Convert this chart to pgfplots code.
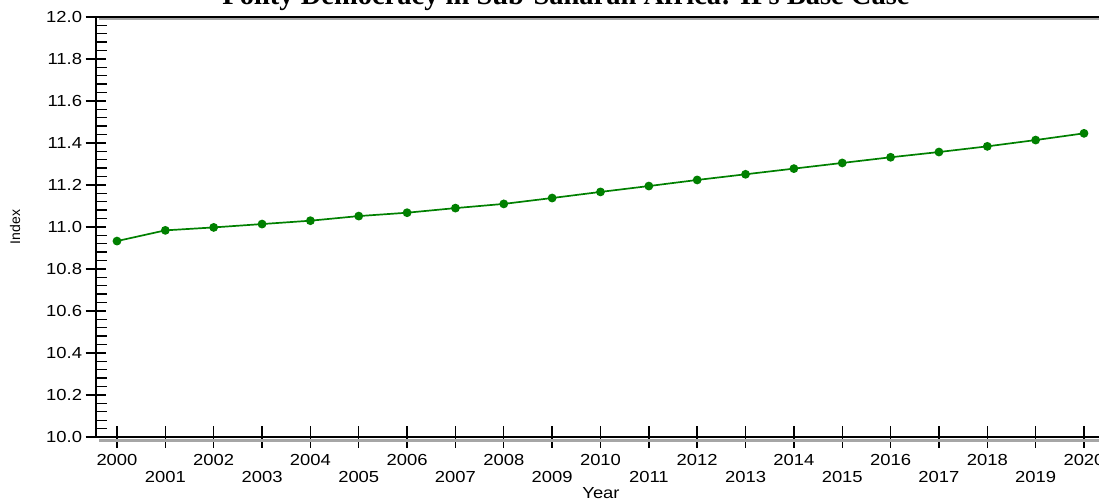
\documentclass[border=0pt]{standalone}
\usepackage{pgfplots}
\pgfplotsset{compat=1.18}
\usepackage{fontspec}
\setmainfont{Liberation Sans}
\newfontfamily\tickfont{Liberation Sans}[FakeStretch=1.15]
\newfontfamily\titlefont{Liberation Serif}
\definecolor{ifsgreen}{RGB}{0,128,0}
\begin{document}
\begin{tikzpicture}[x=1pt,y=1pt]
\begin{axis}[
  at={(96pt,63pt)}, anchor=south west,
  scale only axis, width=1006pt, height=420pt,
  xmin=1999.566, xmax=2020.372,
  ymin=10, ymax=12,
  axis line style={line width=2.2pt},
  xtick={2000,2002,...,2020},
  extra x ticks={2001,2003,...,2019},
  xticklabel style={yshift=-3pt},
  extra x tick style={xticklabel style={yshift=-17pt}},
  ytick={10,10.2,...,12.01},
  minor y tick num=4,
  tick align=center,
  major tick length=21pt,
  minor tick length=11pt,
  every tick/.style={black, line width=1.4pt},
  minor tick style={xshift=5.5pt},
  xtick pos=bottom, ytick pos=left,
  x tick label style={font=\tickfont\fontsize{16}{16}\selectfont, /pgf/number format/set thousands separator={}, /pgf/number format/assume math mode=true},
  y tick label style={font=\tickfont\fontsize{16}{16}\selectfont, /pgf/number format/fixed, /pgf/number format/fixed zerofill, /pgf/number format/precision=1, /pgf/number format/assume math mode=true},
  xlabel={Year}, ylabel={Index},
  xlabel style={font=\tickfont\fontsize{16}{16}\selectfont, at={(rel axis cs:0.502,0)}, anchor=center, yshift=-56pt},
  ylabel style={font=\fontsize{14}{14}\selectfont, at={(rel axis cs:0,0.5)}, anchor=center, yshift=81pt},
  clip=false,
]
\draw[gray!70, line width=3pt] ([xshift=3pt,yshift=-3pt]rel axis cs:0,0) -- ([yshift=-3pt]rel axis cs:1,0);
\draw[gray!70, line width=2pt] ([xshift=3pt,yshift=-2.5pt]rel axis cs:0,1) -- ([yshift=-2.5pt]rel axis cs:1,1);
\addplot[color=ifsgreen, line width=1.7pt, mark=*, mark size=3.5pt, mark options={fill=ifsgreen, draw=ifsgreen}] coordinates {
(2000,10.933) (2001,10.984) (2002,10.998) (2003,11.014) (2004,11.030)
(2005,11.052) (2006,11.068) (2007,11.090) (2008,11.110) (2009,11.138)
(2010,11.167) (2011,11.195) (2012,11.224) (2013,11.251) (2014,11.278)
(2015,11.305) (2016,11.332) (2017,11.357) (2018,11.384) (2019,11.414)
(2020,11.446)
};
\end{axis}
\node[anchor=base, font=\titlefont\bfseries\fontsize{28.5}{28.5}\selectfont] at (566pt,495pt) {Polity Democracy in Sub-Saharan Africa: IFs Base Case};
\pgfresetboundingbox
\path (0,0) rectangle (1099pt,500pt);
\end{tikzpicture}
\end{document}
